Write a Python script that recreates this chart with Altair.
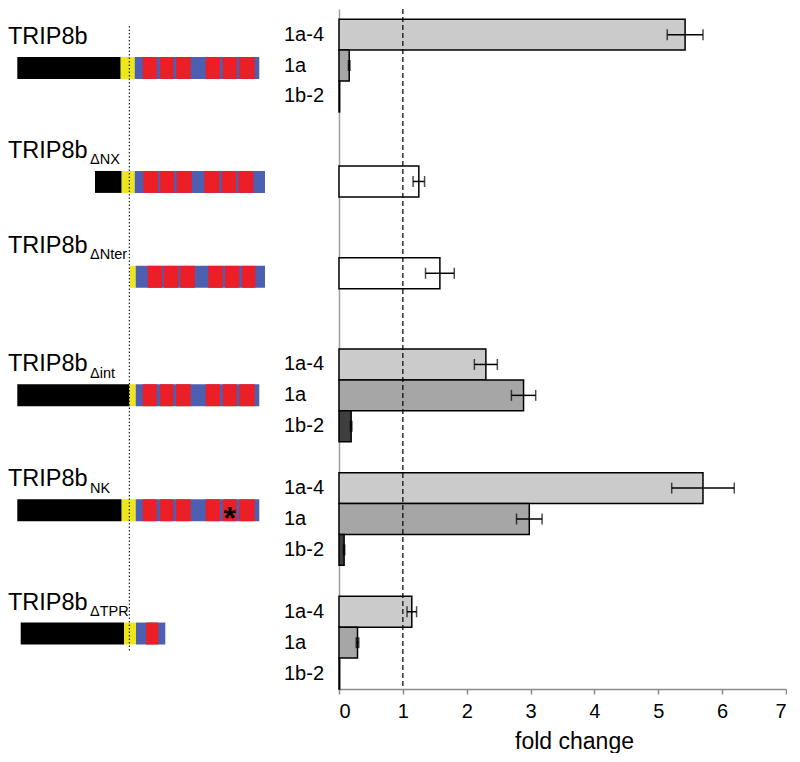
import altair as alt
import pandas as pd

# ------------------------------------------------------------------ data
construct_name = "TRIP8b"
construct_sub = ["", "ΔNX", "ΔNter", "Δint", "NK", "ΔTPR"]
isoforms = ["1a-4", "1a", "1b-2"]

# fold change (mean) and error per construct, ordered 1a-4, 1a, 1b-2
fold_full = [5.42, 0.16, 0.01]
err_full = [0.28, 0.012, 0.0]
fold_dNX = [1.25]
err_dNX = [0.09]
fold_dNter = [1.58]
err_dNter = [0.225]
fold_dint = [2.30, 2.89, 0.19]
err_dint = [0.18, 0.19, 0.012]
fold_NK = [5.70, 2.98, 0.08]
err_NK = [0.49, 0.20, 0.01]
fold_dTPR = [1.14, 0.29, 0.01]
err_dTPR = [0.075, 0.02, 0.0]

x_ticks = [0, 1, 2, 3, 4, 5, 6, 7]
reference_fold = [1]

# protein diagrams (diagram units along the sequence)
nterm_start = [9.3, 87.0, None, 9.3, 9.3, 12.7]
linker_start = [112.7, 113.7, 122.0, 121.3, 113.7, 116.0]
tpr_start = [126.7, 126.7, 127.7, 127.7, 127.7, 128.0]
tpr_end = [251.3, 257.0, 257.0, 251.3, 251.3, 157.3]
repeats_full = [(134.7, 148.7), (152.0, 165.3), (168.0, 182.7), (197.7, 212.0), (214.7, 228.7), (231.3, 246.7)]
repeats_dNX = [(135.3, 150.0), (152.0, 166.0), (168.7, 183.7), (196.3, 211.3), (213.7, 228.0), (230.3, 245.3)]
repeats_dNter = [(139.7, 154.3), (156.0, 170.3), (172.3, 187.0), (200.3, 214.7), (217.0, 231.3), (234.0, 247.3)]
repeats_dTPR = [(138.0, 150.3)]
mutated_repeat = 4  # index of the repeat carrying the point mutation in NK

# ------------------------------------------------------------------ layout / style
NSLOT = 22
PLOT_H = 680
LEFT_W = 331
RIGHT_W = 447
group_top = [0.33, 5.08, 8.05, 11.0, 15.0, 19.0]      # row slot where each construct's bars begin
diag_top = [1.553, 5.24, 8.31, 12.14, 15.86, 19.85]   # row slot of each diagram's top edge
DIAG_H = 0.71
LABEL_LIFT = 0.42
SUB_X = 82.0
GUIDE_X = 121.3
GUIDE_Y = (0.55, 20.77)
FONT = "Liberation Sans"

iso_fill = {"1a-4": "#cbcbcb", "1a": "#a6a6a6", "1b-2": "#3f3f3f"}
C_BLACK, C_YELLOW, C_BLUE, C_RED = "#000000", "#eee61c", "#4d5fb0", "#ec1f27"

folds = [fold_full, fold_dNX, fold_dNter, fold_dint, fold_NK, fold_dTPR]
errs = [err_full, err_dNX, err_dNter, err_dint, err_NK, err_dTPR]
repeats = [repeats_full, repeats_dNX, repeats_dNter, repeats_full, repeats_full, repeats_dTPR]

# ------------------------------------------------------------------ tables
bar_rows = []
for g, (vals, es) in enumerate(zip(folds, errs)):
    single = len(vals) == 1
    for j, (v, e) in enumerate(zip(vals, es)):
        y0 = group_top[g] + j
        bar_rows.append(dict(
            base=0.0, value=v, lo=v - e, hi=v + e, has_err=e > 0,
            y0=y0, y1=y0 + 1, yc=y0 + 0.5,
            iso="" if single else isoforms[j],
            fill="#ffffff" if single else iso_fill[isoforms[j]],
        ))
bars_df = pd.DataFrame(bar_rows)
err_df = bars_df[bars_df["has_err"]]
lab_df = bars_df[bars_df["iso"] != ""]

seg_rows = []
for i in range(6):
    top, bot = diag_top[i], diag_top[i] + DIAG_H
    if nterm_start[i] is not None:
        seg_rows.append(dict(x0=nterm_start[i], x1=linker_start[i], y0=top, y1=bot, fill=C_BLACK))
    seg_rows.append(dict(x0=linker_start[i], x1=tpr_start[i], y0=top, y1=bot, fill=C_YELLOW))
    seg_rows.append(dict(x0=tpr_start[i], x1=tpr_end[i], y0=top, y1=bot, fill=C_BLUE))
    for a, b in repeats[i]:
        seg_rows.append(dict(x0=a, x1=b, y0=top, y1=bot, fill=C_RED))
seg_df = pd.DataFrame(seg_rows)

name_df = pd.DataFrame(dict(
    x=[0.0] * 6, xs=[SUB_X] * 6,
    y=[t - LABEL_LIFT for t in diag_top],
    name=[construct_name] * 6, sub=construct_sub,
))
a, b = repeats_full[mutated_repeat]
star_df = pd.DataFrame(dict(x=[(a + b) / 2], y=[diag_top[4] + DIAG_H / 2], t=["*"]))
guide_df = pd.DataFrame(dict(x=[GUIDE_X], y0=[GUIDE_Y[0]], y1=[GUIDE_Y[1]]))
ref_df = pd.DataFrame(dict(v=reference_fold))

# ------------------------------------------------------------------ left panel
yscale = alt.Scale(domain=[0, NSLOT], reverse=True, nice=False, zero=False)
lx = alt.Scale(domain=[0, LEFT_W], nice=False, zero=False)
noframe = alt.ViewBackground(stroke="transparent", strokeWidth=0)

segs = alt.Chart(seg_df).mark_rect().encode(
    x=alt.X("x0:Q", scale=lx, axis=None), x2="x1:Q",
    y=alt.Y("y0:Q", scale=yscale, axis=None), y2="y1:Q",
    fill=alt.Fill("fill:N", scale=None),
)
guide = alt.Chart(guide_df).mark_rule(color="black", strokeWidth=1, strokeDash=[1.5, 2]).encode(
    x=alt.X("x:Q", scale=lx, axis=None), y=alt.Y("y0:Q", scale=yscale, axis=None), y2="y1:Q"
)
names = alt.Chart(name_df).mark_text(align="left", baseline="alphabetic", fontSize=23.5, font=FONT, color="black").encode(
    x=alt.X("x:Q", scale=lx, axis=None), y=alt.Y("y:Q", scale=yscale, axis=None), text="name:N"
)
subs = alt.Chart(name_df).mark_text(align="left", baseline="alphabetic", fontSize=14.5, font=FONT, color="black", dy=6.5).encode(
    x=alt.X("xs:Q", scale=lx, axis=None), y=alt.Y("y:Q", scale=yscale, axis=None), text="sub:N"
)
star = alt.Chart(star_df).mark_text(align="center", baseline="alphabetic", fontSize=32, fontWeight="bold", font=FONT, color="black", dy=19).encode(
    x=alt.X("x:Q", scale=lx, axis=None), y=alt.Y("y:Q", scale=yscale, axis=None), text="t:N"
)
left = alt.layer(segs, guide, names, subs, star).properties(width=LEFT_W, height=PLOT_H, view=noframe)

# ------------------------------------------------------------------ right panel
rx = alt.Scale(domain=[0, 7], nice=False, zero=False)
xaxis = alt.Axis(values=x_ticks, title="fold change", grid=False, format="d",
                 domainColor="#8a8a8a", domainWidth=1.5, tickColor="#8a8a8a", tickWidth=1.5, tickSize=5,
                 labelFontSize=20, labelColor="black", labelFont=FONT, labelPadding=7,
                 titleFontSize=23, titleFontWeight="normal", titleColor="black", titleFont=FONT,
                 titlePadding=9, titleX=235, titleAlign="center")
yaxis = alt.Axis(labels=False, ticks=False, grid=False, title=None, domainColor="#a0a0a0", domainWidth=1.5)

bars = alt.Chart(bars_df).mark_rect(stroke="black", strokeWidth=1.5).encode(
    x=alt.X("base:Q", scale=rx, axis=xaxis), x2="value:Q",
    y=alt.Y("y0:Q", scale=yscale, axis=yaxis), y2="y1:Q",
    fill=alt.Fill("fill:N", scale=None),
)
ref = alt.Chart(ref_df).mark_rule(color="black", strokeWidth=1.2, strokeDash=[5, 3]).encode(
    x=alt.X("v:Q", scale=rx)
)
err_line = alt.Chart(err_df).mark_rule(color="black", strokeWidth=1.5).encode(
    x=alt.X("lo:Q", scale=rx), x2="hi:Q", y=alt.Y("yc:Q", scale=yscale)
)
cap_lo = alt.Chart(err_df).mark_tick(orient="vertical", color="black", size=11, thickness=1.5).encode(
    x=alt.X("lo:Q", scale=rx), y=alt.Y("yc:Q", scale=yscale)
)
cap_hi = alt.Chart(err_df).mark_tick(orient="vertical", color="black", size=11, thickness=1.5).encode(
    x=alt.X("hi:Q", scale=rx), y=alt.Y("yc:Q", scale=yscale)
)
iso_lab = alt.Chart(lab_df).mark_text(align="left", baseline="middle", fontSize=20, font=FONT, color="black").encode(
    x=alt.value(-55), y=alt.Y("yc:Q", scale=yscale), text="iso:N"
)
right = alt.layer(bars, ref, err_line, cap_lo, cap_hi, iso_lab).properties(width=RIGHT_W, height=PLOT_H, view=noframe)

chart = (
    alt.hconcat(left, right, spacing=0, bounds="flush")
    .resolve_scale(x="independent", y="independent")
    .properties(padding=0)
    .configure_view(strokeWidth=0, stroke="transparent")
    .configure(font=FONT)
)
chart.save("out.html", embed_options={"renderer": "svg", "actions": False})
